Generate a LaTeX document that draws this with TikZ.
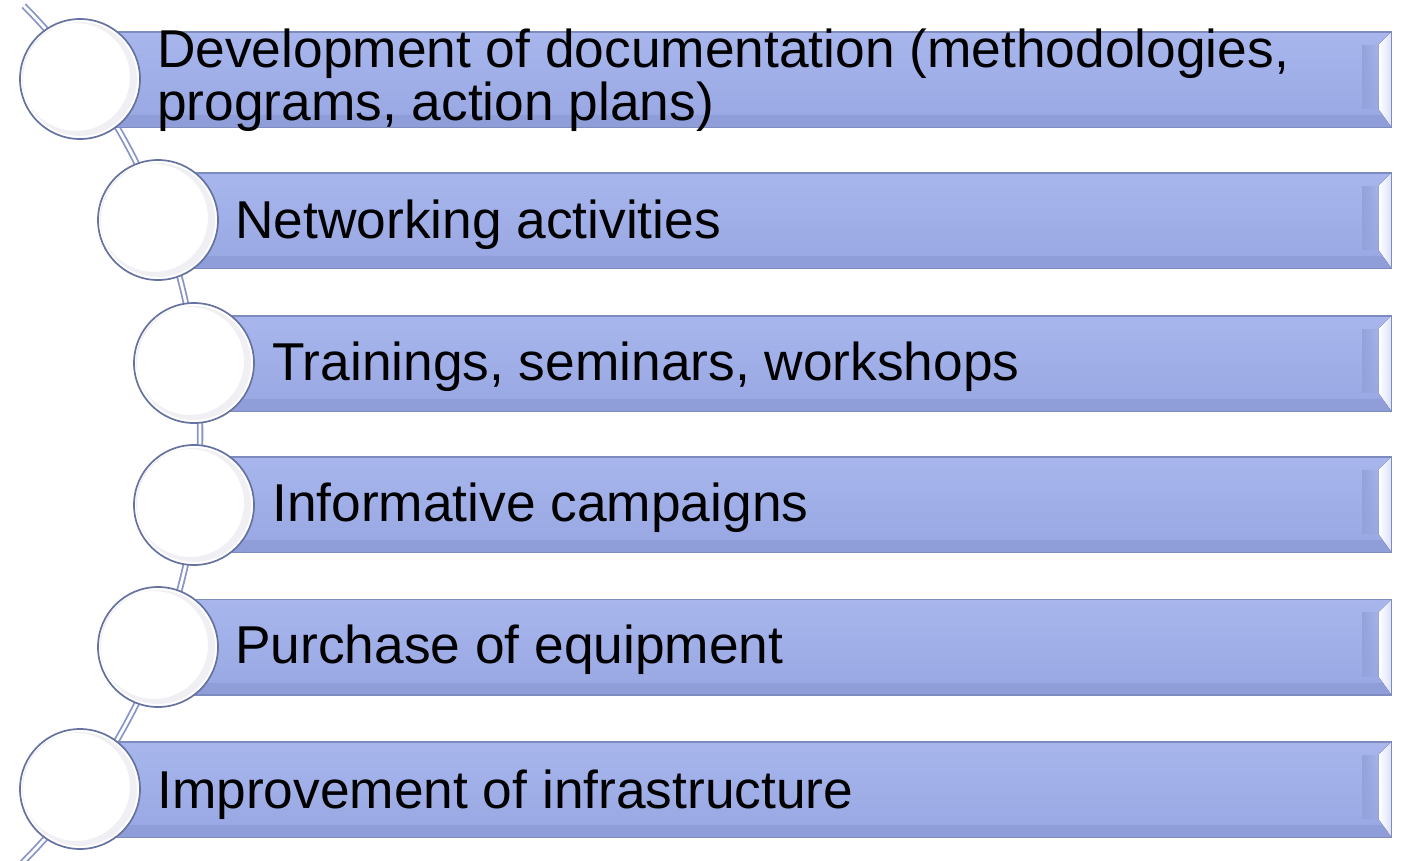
\documentclass[tikz,border=0pt]{standalone}
\usepackage{fontspec}
\setmainfont{Liberation Sans}
\usetikzlibrary{fadings}
\definecolor{barline}{HTML}{7E8BBE}
\definecolor{bartop}{HTML}{A8B6ED}
\definecolor{barmid}{HTML}{ACBAF4}
\definecolor{barbot}{HTML}{98A7E2}
\definecolor{barband}{HTML}{8F9ED9}
\definecolor{bevelc}{HTML}{BCC7F7}
\definecolor{shadowc}{HTML}{94A2DB}
\definecolor{ringline}{HTML}{66729F}
\definecolor{crescent}{HTML}{F0F0F4}
\definecolor{arcc}{HTML}{8895C6}
\begin{document}
\begin{tikzpicture}[x=1pt,y=-1pt,
  bar/.style={rectangle, draw=barline, line width=0.9pt, top color=bartop,
    middle color=barmid, bottom color=barbot, minimum height=95pt,
    inner sep=0pt, anchor=west},
  ring/.style={circle, draw=ringline, line width=1.7pt, fill=white,
    minimum size=120pt, inner sep=0pt},
  lbl/.style={anchor=base west, inner sep=0pt,
    font=\fontsize{53.3}{53}\selectfont, align=left},
  arcline/.style={draw=arcc, line width=1.8pt, double=white, double distance=2.8pt}]
\clip (0,0) rectangle (1404,860);
% curved spine
\draw[arcline] (23.8,5.8) arc[start angle=-44.8, end angle=47, radius=607];
% bars
\node[bar, minimum width=1311pt] (b1) at (80,79.5) {};
\node[bar, minimum width=1233pt] (b2) at (158,220.5) {};
\node[bar, minimum width=1197pt] (b3) at (194,363.5) {};
\node[bar, minimum width=1197pt] (b4) at (194,504.5) {};
\node[bar, minimum width=1233pt] (b5) at (158,647) {};
\node[bar, minimum width=1311pt] (b6) at (80,789.5) {};
\foreach \b in {b1,b2,b3,b4,b5,b6}{
  \fill[barband] ([xshift=0.5pt,yshift=12pt]\b.south west) rectangle ([xshift=-0.5pt,yshift=0.5pt]\b.south east);
  \fill[shadowc, path fading=east] ([xshift=-30pt,yshift=-13pt]\b.north east) rectangle ([xshift=-13pt,yshift=18pt]\b.south east);
  \fill[left color=white, right color=white!45!bevelc]
    ([xshift=-13pt,yshift=-13pt]\b.north east) -- ([xshift=-0.5pt,yshift=-0.5pt]\b.north east)
    -- ([xshift=-0.5pt,yshift=0.5pt]\b.south east) -- ([xshift=-13pt,yshift=18pt]\b.south east) -- cycle;
  \draw[barline, line width=0.9pt] (\b.north west) rectangle (\b.south east);
}
% circles
\foreach \c/\x/\y in {c1/80/79, c2/158/220, c3/194/363, c4/194/505, c5/158/647, c6/80/789}{
  \node[ring] (\c) at (\x,\y) {};
  \fill[crescent, even odd rule] (\c.center) circle (57pt) ([xshift=-4pt,yshift=2pt]\c.center) circle (54pt);
}
% labels
\node[lbl] (t1) at (157,120) {Development of documentation (methodologies,\\programs, action plans)};
\node[lbl] (t2) at (235,238) {Networking activities};
\node[lbl] (t3) at (272,380) {Trainings, seminars, workshops};
\node[lbl] (t4) at (272,521) {Informative campaigns};
\node[lbl] (t5) at (235,663) {Purchase of equipment};
\node[lbl] (t6) at (157,808) {Improvement of infrastructure};
\end{tikzpicture}
\end{document}
